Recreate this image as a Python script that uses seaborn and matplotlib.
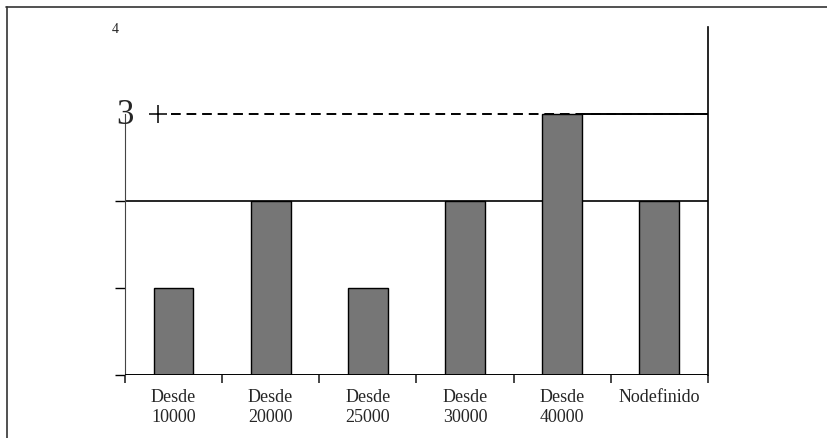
import pandas as pd
import seaborn as sns
import matplotlib.pyplot as plt
from matplotlib.lines import Line2D

# Chart values
categories = ['Desde\n10000', 'Desde\n20000', 'Desde\n25000', 'Desde\n30000', 'Desde\n40000', 'Nodefinido']
counts = [1, 2, 1, 2, 3, 2]

df = pd.DataFrame({'rango': categories, 'n': counts})

sns.set_style('white')
plt.rcParams['font.family'] = ['Liberation Serif', 'DejaVu Serif']

fig = plt.figure(figsize=(8.27, 4.39), dpi=100)
ax = fig.add_axes([0.151, 0.1435, 0.705, 0.7925])

# Bars
sns.barplot(data=df, x='rango', y='n', color='#767676', width=0.41,
            edgecolor='black', linewidth=1.0, saturation=1, ax=ax, zorder=3)

ax.set_xlim(-0.5, len(categories) - 0.5)
ax.set_ylim(0, 4)

# Reference lines: solid at 2, dashed at 3 with a solid tail on the right
ax.axhline(2, color='black', lw=1.2, zorder=1)
ax.plot([-0.03, 5.5], [3, 3], color='black', lw=1.4, ls=(0, (5, 3)), zorder=1)
ax.plot([4 + 0.205, 5.5], [3, 3], color='black', lw=1.4, zorder=2)
ax.plot([-0.16], [3], marker='+', ms=13, mew=1.1, color='black', clip_on=False)

# Spines
for s in ['top', 'bottom']:
    ax.spines[s].set_visible(False)
ax.spines['left'].set_bounds(0, 3)
ax.spines['left'].set_color('#444444')
ax.spines['right'].set_color('black')
ax.spines['right'].set_linewidth(1.2)
ax.axhline(0, color='black', lw=1.4, zorder=4)

# y ticks
ax.set_yticks([0, 1, 2])
ax.set_yticklabels([])
ax.tick_params(axis='y', direction='out', length=7, width=1, left=True, colors='black')
ax.text(-0.41, 3.0, '3', fontsize=25, ha='right', va='center')
ax.text(-0.56, 3.98, '4', fontsize=10, ha='right', va='center')

# x ticks: labels at centres, tick marks at category boundaries
ax.set_xticks(range(len(categories)))
ax.set_xticklabels(categories, fontsize=13, linespacing=1.25)
ax.set_xticks([i - 0.5 for i in range(len(categories) + 1)], minor=True)
ax.tick_params(axis='x', which='major', length=0, pad=9)
ax.tick_params(axis='x', which='minor', direction='out', length=6, width=1.2, bottom=True)
ax.set_xlabel('')
ax.set_ylabel('')

# Scan frame
fig.add_artist(Line2D([6 / 827, 1], [1 - 8 / 439, 1 - 8 / 439], color='#333333', lw=1.2, transform=fig.transFigure))
fig.add_artist(Line2D([7 / 827, 7 / 827], [0, 1 - 8 / 439], color='#333333', lw=1.2, transform=fig.transFigure))

plt.savefig('out.png', dpi=100)
